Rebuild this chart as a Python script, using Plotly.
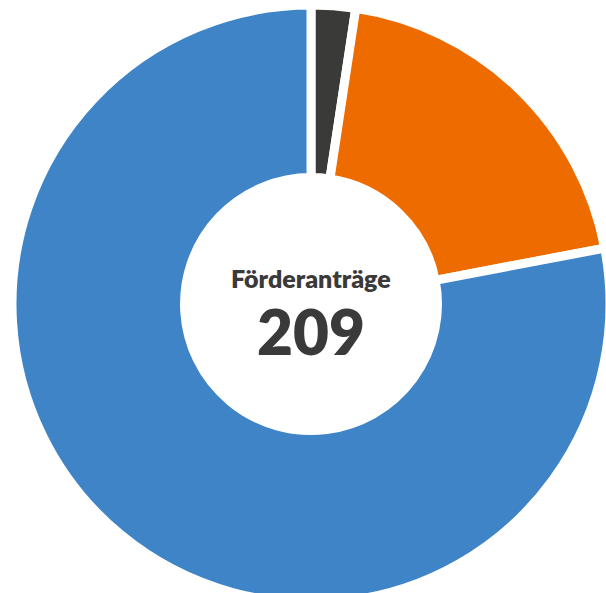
import plotly.graph_objects as go

labels = ["Kategorie A", "Kategorie B", "Kategorie C"]
values = [5, 41, 163]
colors = ["#3a3a38", "#ee6b00", "#3e84c6"]
center_title = "Förderanträge"
center_value = "209"

W, H = 610, 603
ML, MT = 12, 5
PW, PH = W - ML, H - MT

def py(y):
    return 1 - (y - MT) / PH

fig = go.Figure(go.Pie(
    labels=labels,
    values=values,
    marker=dict(colors=colors, line=dict(color="white", width=9)),
    hole=0.423,
    sort=False,
    direction="clockwise",
    rotation=0,
    textinfo="none",
    hoverinfo="label+value",
    showlegend=False,
))

fig.add_annotation(text=center_title, x=0.5, y=py(278.3), xref="paper", yref="paper",
                   showarrow=False, xanchor="center", yanchor="middle", borderpad=0,
                   font=dict(family="Lato", size=25, weight=800, color="#3a3a3a"))
fig.add_annotation(text=center_value, x=0.5, y=py(331), xref="paper", yref="paper",
                   showarrow=False, xanchor="center", yanchor="middle", borderpad=0,
                   font=dict(family="Lato", size=62, weight=800, color="#3a3a3a"))

fig.update_layout(
    width=W, height=H,
    margin=dict(l=ML, r=0, t=MT, b=0, pad=0),
    paper_bgcolor="white", plot_bgcolor="white",
)

fig.write_html("out.html", config={"displayModeBar": False},
               post_script="document.body.style.margin='0';document.body.style.overflow='hidden';")
